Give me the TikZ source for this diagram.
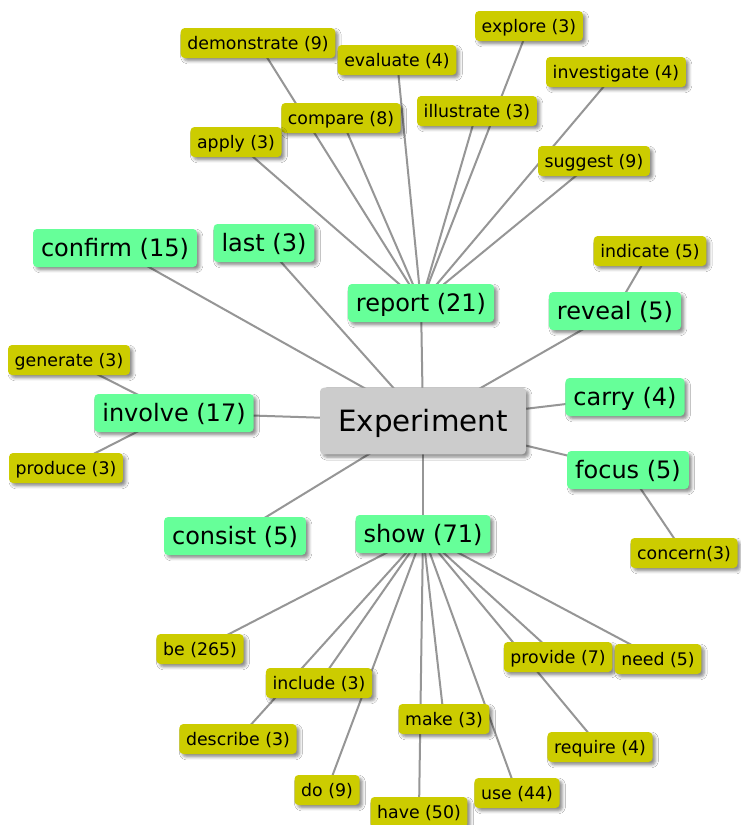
\documentclass[tikz,border=0pt]{standalone}
\usepackage{fontspec}
\setmainfont{DejaVu Sans}
\usetikzlibrary{shadows.blur,backgrounds}
\definecolor{ylw}{RGB}{204,204,0}
\definecolor{grn}{RGB}{102,255,153}
\definecolor{gry}{RGB}{204,204,204}
\definecolor{edgec}{RGB}{150,150,150}
\tikzset{
  base/.style={rounded corners=3pt, inner ysep=0pt,
    blur shadow={shadow xshift=2.2pt, shadow yshift=-2.2pt, shadow opacity=45, shadow blur steps=4}},
  ylwbox/.style={base, fill=ylw, font=\fontsize{13}{15}\selectfont, minimum height=22.5pt, inner xsep=5pt, text height=12.4pt, text depth=3pt},
  grnbox/.style={base, fill=grn, font=\fontsize{18}{21}\selectfont, minimum height=28.5pt, inner xsep=6pt, text height=16pt, text depth=4pt},
  centerbox/.style={base, fill=gry, font=\fontsize{22}{26}\selectfont, minimum width=154.5pt, minimum height=50pt, text height=19pt, text depth=3pt},
  link/.style={draw=edgec, line width=1.5pt}
}
\begin{document}
\begin{tikzpicture}[x=0.75pt,y=-0.75pt]
\useasboundingbox (0,0) rectangle (740,825);
% center
\node[centerbox] (exp) at (423,421) {Experiment};
% green
\node[grnbox] (confirm) at (115,248) {confirm (15)};
\node[grnbox] (last) at (264,243) {last (3)};
\node[grnbox] (report) at (421,303) {report (21)};
\node[grnbox] (reveal) at (615,311) {reveal (5)};
\node[grnbox] (involve) at (174,413) {involve (17)};
\node[grnbox] (carry) at (625,397) {carry (4)};
\node[grnbox] (focus) at (628,470) {focus (5)};
\node[grnbox] (consist) at (235,536) {consist (5)};
\node[grnbox] (show) at (423,534) {show (71)};
% yellow
\node[ylwbox] (demonstrate) at (258,43) {demonstrate (9)};
\node[ylwbox] (evaluate) at (397,60) {evaluate (4)};
\node[ylwbox] (explore) at (529,26) {explore (3)};
\node[ylwbox] (investigate) at (616,72) {investigate (4)};
\node[ylwbox] (illustrate) at (477,111) {illustrate (3)};
\node[ylwbox] (compare) at (341,118) {compare (8)};
\node[ylwbox] (apply) at (236,142) {apply (3)};
\node[ylwbox] (suggest) at (594,161) {suggest (9)};
\node[ylwbox] (indicate) at (650,251) {indicate (5)};
\node[ylwbox] (generate) at (69,360) {generate (3)};
\node[ylwbox] (produce) at (66,468) {produce (3)};
\node[ylwbox] (concern) at (684,553) {concern(3)};
\node[ylwbox] (be) at (200,649) {be (265)};
\node[ylwbox] (include) at (319,683) {include (3)};
\node[ylwbox] (describe) at (238,739) {describe (3)};
\node[ylwbox] (do) at (327,790) {do (9)};
\node[ylwbox] (have) at (419,812) {have (50)};
\node[ylwbox] (make) at (444,719) {make (3)};
\node[ylwbox] (use) at (517,793) {use (44)};
\node[ylwbox] (provide) at (558,657) {provide (7)};
\node[ylwbox] (need) at (658,659) {need (5)};
\node[ylwbox] (require) at (600,747) {require (4)};
\begin{pgfonlayer}{background}
\fill[white] (0,0) rectangle (740,825);
\foreach \c in {confirm,last,report,reveal,involve,carry,focus,consist,show}
  \draw[link] (exp.center) -- (\c.center);
\foreach \c in {demonstrate,evaluate,explore,investigate,illustrate,compare,apply,suggest}
  \draw[link] (report.center) -- (\c.center);
\foreach \c in {be,include,describe,do,have,make,use,provide,need,require}
  \draw[link] (show.center) -- (\c.center);
\draw[link] (involve.center) -- (generate.center);
\draw[link] (involve.center) -- (produce.center);
\draw[link] (reveal.center) -- (indicate.center);
\draw[link] (focus.center) -- (concern.center);
\end{pgfonlayer}
\end{tikzpicture}
\end{document}
